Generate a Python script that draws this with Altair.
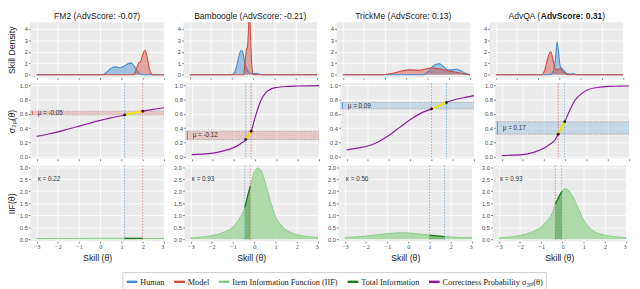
import altair as alt
import pandas as pd

# ---------------- data ----------------
DATASETS = ["FM2", "Bamboogle", "TrickMe", "AdvQA"]
ADV_SCORES = ["-0.07", "-0.21", "0.13", "0.31"]
MU_LABELS = ["μ = -0.05", "μ = -0.12", "μ = 0.09", "μ = 0.17"]
KAPPA_LABELS = ["κ = 0.22", "κ = 0.93", "κ = 0.56", "κ = 0.93"]

THETA_HUMAN = [1.15, -0.45, 1.70, -0.03]
THETA_MODEL = [2.00, -0.20, 1.00, -0.34]
P_HUMAN = [0.585, 0.24, 0.76, 0.49]
P_MODEL = [0.638, 0.355, 0.67, 0.315]

# skill densities
FM2_HUMAN_X = [-3, 0.1, 0.3, 0.5, 0.7, 0.9, 1.1, 1.3, 1.45, 1.6, 1.75, 1.9, 2.05, 3]
FM2_HUMAN_Y = [0, 0, 0.22, 0.55, 0.68, 0.6, 0.72, 0.95, 1.03, 0.72, 0.3, 0.05, 0, 0]
FM2_MODEL_X = [-3, 1.55, 1.7, 1.8, 1.9, 2.0, 2.1, 2.2, 2.3, 2.4, 2.5, 3]
FM2_MODEL_Y = [0, 0, 0.5, 1.0, 1.15, 1.75, 2.12, 1.6, 0.6, 0.1, 0, 0]

BAM_HUMAN_X = [-3, -1.0, -0.85, -0.72, -0.62, -0.55, -0.48, -0.4, -0.3, -0.2, -0.05, 0.1, 0.25, 0.42, 3]
BAM_HUMAN_Y = [0, 0, 0.35, 1.3, 2.0, 2.1, 1.8, 1.0, 0.45, 0.18, 0.1, 0.12, 0.06, 0, 0]
BAM_MODEL_X = [-3, -0.46, -0.4, -0.33, -0.28, -0.24, -0.19, -0.15, -0.1, -0.05, 0.0, 3]
BAM_MODEL_Y = [0, 0, 1.0, 2.2, 2.4, 3.6, 5.6, 4.2, 1.6, 0.3, 0, 0]

TM_HUMAN_X = [-3, 0.8, 1.0, 1.2, 1.4, 1.55, 1.75, 1.95, 2.15, 2.35, 2.55, 2.75, 2.95, 3]
TM_HUMAN_Y = [0, 0, 0.25, 0.65, 0.9, 0.95, 0.7, 0.42, 0.42, 0.47, 0.35, 0.15, 0.02, 0]
TM_MODEL_X = [-3, -1.1, -0.7, -0.3, 0.2, 0.6, 1.0, 1.2, 1.5, 2.0, 2.5, 2.9, 3]
TM_MODEL_Y = [0, 0, 0.1, 0.3, 0.42, 0.38, 0.55, 0.6, 0.52, 0.33, 0.15, 0.03, 0]

AQ_HUMAN_X = [-3, -0.45, -0.3, -0.2, -0.12, -0.05, 0.02, 0.1, 0.2, 0.35, 0.5, 0.65, 0.8, 3]
AQ_HUMAN_Y = [0, 0, 0.3, 1.3, 2.84, 2.0, 0.8, 0.55, 0.35, 0.1, 0.06, 0.1, 0, 0]
AQ_MODEL_X = [-3, -0.85, -0.7, -0.55, -0.42, -0.3, -0.2, -0.1, 0.03, 0.15, 0.3, 0.4, 3]
AQ_MODEL_Y = [0, 0, 0.4, 1.5, 2.0, 1.2, 0.5, 0.42, 0.55, 0.3, 0.05, 0, 0]

# correctness probability curves
FM2_SIG_X = [-3, -2.5, -2, -1.5, -1, -0.5, 0, 0.5, 1, 1.15, 1.5, 2, 2.5, 3]
FM2_SIG_Y = [0.284, 0.314, 0.347, 0.387, 0.428, 0.469, 0.509, 0.543, 0.574, 0.585, 0.607, 0.638, 0.663, 0.685]
BAM_SIG_X = [-3, -2.5, -2, -1.5, -1, -0.75, -0.45, -0.2, 0, 0.25, 0.5, 0.75, 1, 1.5, 2, 2.5, 3]
BAM_SIG_Y = [0.027, 0.035, 0.05, 0.08, 0.13, 0.17, 0.24, 0.355, 0.56, 0.78, 0.9, 0.95, 0.97, 0.985, 0.99, 0.993, 0.995]
TM_SIG_X = [-3, -2.5, -2, -1.5, -1, -0.5, 0, 0.5, 1, 1.7, 2, 2.5, 3]
TM_SIG_Y = [0.095, 0.12, 0.15, 0.21, 0.30, 0.41, 0.52, 0.61, 0.67, 0.76, 0.79, 0.825, 0.855]
AQ_SIG_X = [-3, -2.5, -2, -1.5, -1, -0.75, -0.5, -0.34, -0.03, 0.25, 0.5, 0.75, 1, 1.5, 2, 2.5, 3]
AQ_SIG_Y = [0.015, 0.02, 0.027, 0.06, 0.12, 0.17, 0.23, 0.315, 0.49, 0.68, 0.81, 0.88, 0.93, 0.97, 0.985, 0.988, 0.99]

# item information functions
FM2_IIF_X = [-3, -2, -1, 0, 0.3, 1, 1.15, 1.5, 2, 3]
FM2_IIF_Y = [0.028, 0.032, 0.036, 0.039, 0.04, 0.039, 0.038, 0.037, 0.035, 0.03]
BAM_IIF_X = [-3, -2.5, -2, -1.5, -1, -0.75, -0.45, -0.2, 0, 0.16, 0.35, 0.5, 0.75, 1, 1.25, 1.5, 2, 2.5, 3]
BAM_IIF_Y = [0.05, 0.09, 0.15, 0.27, 0.52, 0.8, 1.33, 2.2, 2.8, 2.97, 2.8, 2.4, 1.6, 0.93, 0.6, 0.39, 0.19, 0.11, 0.07]
TM_IIF_X = [-3, -2, -1, -0.3, 0, 1, 1.7, 2, 3]
TM_IIF_Y = [0.07, 0.13, 0.23, 0.27, 0.26, 0.17, 0.11, 0.09, 0.06]
AQ_IIF_X = [-3, -2.5, -2, -1.5, -1, -0.75, -0.5, -0.34, -0.03, 0.13, 0.3, 0.5, 0.75, 1, 1.25, 1.5, 2, 2.5, 3]
AQ_IIF_Y = [0.05, 0.09, 0.15, 0.28, 0.52, 0.75, 1.06, 1.47, 2.0, 2.11, 2.02, 1.75, 1.27, 0.8, 0.5, 0.32, 0.17, 0.1, 0.06]

XTICKS = [-3, -2, -1, 0, 1, 2, 3]
LEGEND = ["Human", "Model", "Item Information Function (IIF)", "Total Information",
          "Correctness Probability σ₂ₚₗ(θ)"]
LEGEND_COLORS = ["#3f8dcf", "#d1493f", "#86cc84", "#1d7a1d", "#8b1a9c"]

DENS = [(FM2_HUMAN_X, FM2_HUMAN_Y, FM2_MODEL_X, FM2_MODEL_Y),
        (BAM_HUMAN_X, BAM_HUMAN_Y, BAM_MODEL_X, BAM_MODEL_Y),
        (TM_HUMAN_X, TM_HUMAN_Y, TM_MODEL_X, TM_MODEL_Y),
        (AQ_HUMAN_X, AQ_HUMAN_Y, AQ_MODEL_X, AQ_MODEL_Y)]
SIGS = [(FM2_SIG_X, FM2_SIG_Y), (BAM_SIG_X, BAM_SIG_Y), (TM_SIG_X, TM_SIG_Y), (AQ_SIG_X, AQ_SIG_Y)]
IIFS = [(FM2_IIF_X, FM2_IIF_Y), (BAM_IIF_X, BAM_IIF_Y), (TM_IIF_X, TM_IIF_Y), (AQ_IIF_X, AQ_IIF_Y)]

# ---------------- styling ----------------
W, H1, H2, H3 = 138, 57, 78, 78
BLUE, RED = LEGEND_COLORS[0], LEGEND_COLORS[1]
YELLOW = "#f2e600"
IIF_FILL = "#9fd69b"
TOT_FILL = "#4f9d4b"
SANS, SERIF = "Liberation Sans", "Liberation Serif"

XSCALE = alt.Scale(domain=[-3.3, 3.0], nice=False, zero=False)
YSCALES = {1: alt.Scale(domain=[-0.23, 4.57], nice=False, zero=False),
           2: alt.Scale(domain=[-0.03, 1.03], nice=False, zero=False),
           3: alt.Scale(domain=[-0.08, 3.07], nice=False, zero=False)}
YVALUES = {1: [0, 1, 2, 3, 4], 2: [0, 0.2, 0.4, 0.6, 0.8, 1], 3: [0, 0.5, 1, 1.5, 2, 2.5, 3]}
YTITLES = {1: "Skill Density", 2: "σ₂ₚₗ(θ)", 3: "IIF(θ)"}

COLOR = alt.Color("series:N", scale=alt.Scale(domain=LEGEND, range=LEGEND_COLORS),
                  legend=alt.Legend(orient="none", legendX=95, legendY=258, direction="horizontal",
                                    title=None))


def x_axis(row):
    if row == 3:
        return alt.Axis(values=XTICKS, title="Skill (θ)")
    return alt.Axis(values=XTICKS, labels=False, title=None, minExtent=0, maxExtent=2)


def y_axis(row, col):
    if col == 0:
        return alt.Axis(values=YVALUES[row], title=YTITLES[row])
    return alt.Axis(values=YVALUES[row], title=None)


def X(row, field="theta:Q"):
    return alt.X(field, scale=XSCALE, axis=x_axis(row))


def Y(row, col, field="v:Q"):
    return alt.Y(field, scale=YSCALES[row], axis=y_axis(row, col))


def frame(xs, ys, series=None):
    d = pd.DataFrame({"theta": xs, "v": ys})
    if series is not None:
        d["series"] = series
    return d


def title_layers(col):
    base = dict(fontSize=8.8, font=SANS, baseline="alphabetic", color="#1a1a1a")
    if col < 3:
        t = f"{DATASETS[col]} (AdvScore: {ADV_SCORES[col]})"
        return [alt.Chart(pd.DataFrame({"t": [t]})).mark_text(align="center", **base)
                .encode(x=alt.value(W / 2), y=alt.value(-3), text="t:N")]
    parts = [(f"{DATASETS[col]} (", "normal", 19.5), (f"AdvScore: {ADV_SCORES[col]}", "bold", 52.8),
             (")", "normal", 116.4)]
    return [alt.Chart(pd.DataFrame({"t": [p]})).mark_text(align="left", fontWeight=w, **base)
            .encode(x=alt.value(px), y=alt.value(-3), text="t:N") for p, w, px in parts]


def vlines(col, row):
    d = pd.DataFrame({"theta": [THETA_HUMAN[col], THETA_MODEL[col]], "c": [BLUE, RED]})
    return alt.Chart(d).mark_rule(strokeDash=[1.5, 1.5], strokeWidth=0.8, opacity=0.8).encode(
        x=X(row), color=alt.Color("c:N", scale=None))


def density_panel(col):
    hx, hy, mx, my = DENS[col]
    hdf, mdf = frame(hx, hy, "Human"), frame(mx, my, "Model")
    ah = alt.Chart(hdf).mark_area(color=BLUE, fillOpacity=0.45, interpolate="monotone", clip=True).encode(
        x=X(1), y=Y(1, col), y2=alt.datum(0))
    am = alt.Chart(mdf).mark_area(color=RED, fillOpacity=0.45, interpolate="monotone", clip=True).encode(
        x=X(1), y=Y(1, col), y2=alt.datum(0))
    ln = alt.Chart(pd.concat([hdf, mdf])).mark_line(strokeWidth=1.1, interpolate="monotone", clip=True).encode(
        x=X(1), y=Y(1, col), color=COLOR)
    return alt.layer(ah, am, ln, *title_layers(col)).properties(width=W, height=H1)


def sigma_panel(col):
    sx, sy = SIGS[col]
    sdf = frame(sx, sy, LEGEND[4])
    lo, hi = sorted([P_HUMAN[col], P_MODEL[col]])
    band_col = RED if P_MODEL[col] > P_HUMAN[col] else BLUE
    bdf = pd.DataFrame({"lo": [lo], "hi": [hi], "mid": [(lo + hi) / 2], "label": [MU_LABELS[col]]})
    band = alt.Chart(bdf).mark_rect(color=band_col, opacity=0.22).encode(
        y=Y(2, col, "lo:Q"), y2=alt.Y2("hi:Q"))
    edges = alt.Chart(pd.DataFrame({"v": [lo, hi]})).mark_rule(
        color="#9a9a9a", strokeDash=[1.2, 1.2], strokeWidth=0.8).encode(y=Y(2, col))
    t0, t1 = sorted([THETA_HUMAN[col], THETA_MODEL[col]])
    curve = alt.Chart(sdf).mark_line(strokeWidth=1.2, interpolate="monotone").encode(
        x=X(2), y=Y(2, col), color=COLOR)
    seg = alt.Chart(sdf).transform_filter(
        f"datum.theta >= {t0 - 1e-9} && datum.theta <= {t1 + 1e-9}").mark_line(
        color=YELLOW, strokeWidth=2.2, interpolate="monotone").encode(x=X(2), y=Y(2, col))
    pts = alt.Chart(pd.DataFrame({"theta": [THETA_HUMAN[col], THETA_MODEL[col]],
                                  "v": [P_HUMAN[col], P_MODEL[col]],
                                  "c": ["#1b2a41", "#4a0d0d"]})).mark_circle(size=9, opacity=1).encode(
        x=X(2), y=Y(2, col), color=alt.Color("c:N", scale=None))
    arrow = alt.Chart(bdf).mark_rule(color=band_col, strokeWidth=0.8).encode(
        x=alt.XDatum(-3.2, scale=XSCALE, axis=x_axis(2)), y=Y(2, col, "lo:Q"), y2=alt.Y2("hi:Q"))
    label = alt.Chart(bdf).mark_text(align="left", baseline="middle", fontSize=6.5, font=SANS,
                                     color="#333333").encode(
        x=alt.XDatum(-2.95, scale=XSCALE, axis=x_axis(2)), y=Y(2, col, "mid:Q"), text="label:N")
    return alt.layer(band, edges, vlines(col, 2), curve, seg, pts, arrow, label).properties(
        width=W, height=H2)


def iif_panel(col):
    ix, iy = IIFS[col]
    idf = frame(ix, iy, LEGEND[2])
    t0, t1 = sorted([THETA_HUMAN[col], THETA_MODEL[col]])
    flt = f"datum.theta >= {t0 - 1e-9} && datum.theta <= {t1 + 1e-9}"
    area = alt.Chart(idf).mark_area(color=IIF_FILL, fillOpacity=0.8, interpolate="monotone").encode(
        x=X(3), y=Y(3, col), y2=alt.datum(0))
    line = alt.Chart(idf).mark_line(strokeWidth=1.0, interpolate="monotone").encode(
        x=X(3), y=Y(3, col), color=COLOR)
    tarea = alt.Chart(idf).transform_filter(flt).mark_area(
        color=TOT_FILL, fillOpacity=0.55, interpolate="monotone").encode(
        x=X(3), y=Y(3, col), y2=alt.datum(0))
    tline = alt.Chart(idf).transform_filter(flt).transform_calculate(
        series=f"'{LEGEND[3]}'").mark_line(strokeWidth=1.4, interpolate="monotone").encode(
        x=X(3), y=Y(3, col), color=COLOR)
    kdf = pd.DataFrame({"label": [KAPPA_LABELS[col]]})
    ktxt = alt.Chart(kdf).mark_text(align="left", baseline="middle", fontSize=6.5, font=SANS,
                                    color="#333333").encode(
        x=alt.XDatum(-2.95, scale=XSCALE, axis=x_axis(3)),
        y=alt.YDatum(2.5, scale=YSCALES[3], axis=y_axis(3, col)), text="label:N")
    return alt.layer(area, tarea, line, tline, vlines(col, 3), ktxt).properties(width=W, height=H3)


row1 = alt.hconcat(*[density_panel(c) for c in range(4)], spacing=7)
row2 = alt.hconcat(*[sigma_panel(c) for c in range(4)], spacing=7)
row3 = alt.hconcat(*[iif_panel(c) for c in range(4)], spacing=7)

chart = alt.vconcat(row1, row2, row3, spacing=2).properties(
    padding={"left": 0, "top": 0, "right": 0, "bottom": 0}
).configure_view(
    fill="#ebebeb", stroke=None
).configure_axis(
    grid=True, gridColor="white", gridWidth=0.8, domain=False, tickColor="#333333", tickSize=2,
    tickWidth=0.6, labelColor="#4d4d4d", labelFontSize=6, labelFont=SANS, labelPadding=1,
    titleFont=SANS, titleFontSize=9, titleFontWeight="normal", titleColor="#1a1a1a"
).configure_axisX(
    labelFont=SERIF, labelFontSize=6.5, titlePadding=3
).configure_axisY(
    minExtent=12, maxExtent=12, titlePadding=2
).configure_legend(
    symbolType="stroke", symbolStrokeWidth=2.5, symbolSize=121, symbolOpacity=1,
    labelFont=SERIF, labelFontSize=8.5, labelColor="#1a1a1a", labelOffset=1.5, labelLimit=0,
    fillColor="white", strokeColor="#cccccc", padding=3, columnPadding=4
)

chart.save("out.html", embed_options={"renderer": "svg", "actions": False})
